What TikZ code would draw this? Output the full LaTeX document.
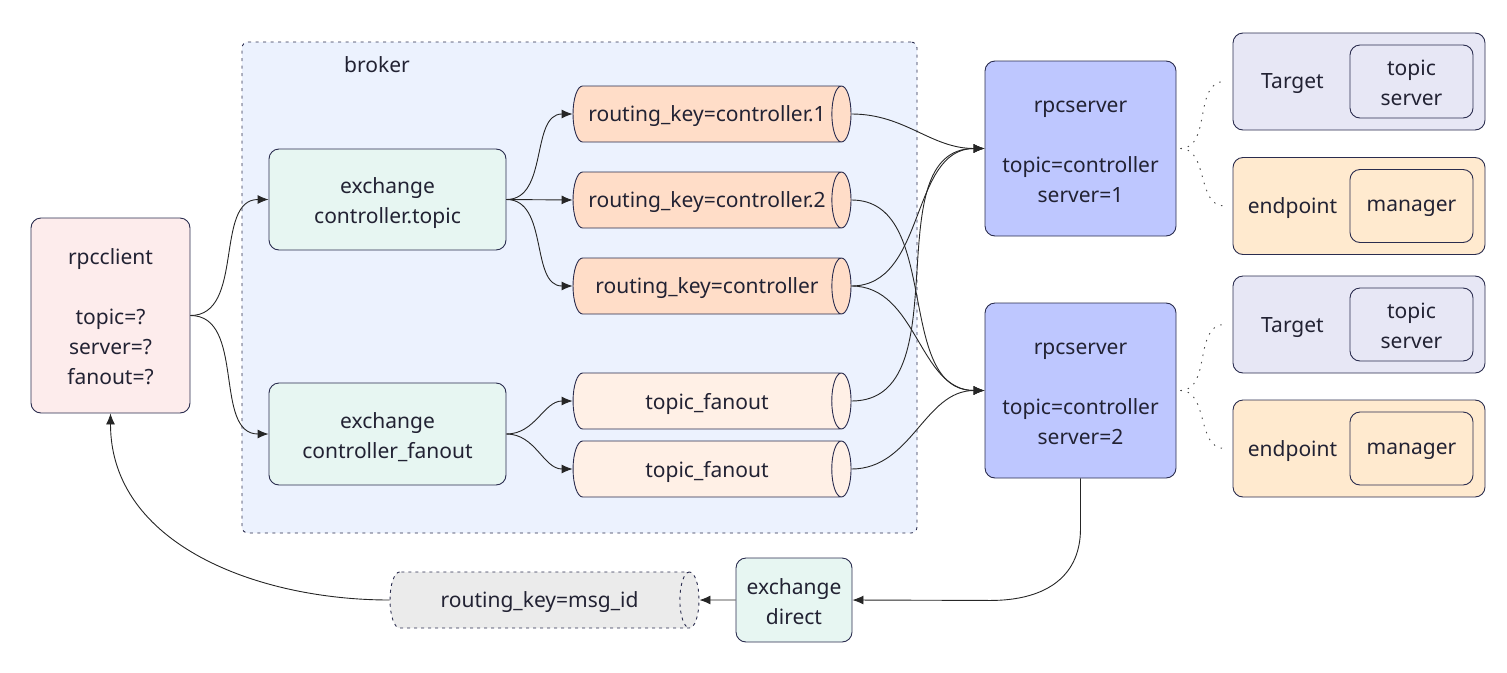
\documentclass[tikz,border=0pt]{standalone}
\usepackage{fontspec}
\setmainfont{Noto Sans}
\usetikzlibrary{shapes.geometric,arrows.meta}
\definecolor{txt}{HTML}{222233}
\definecolor{bord}{HTML}{2A2C4E}
\definecolor{brokerfill}{HTML}{ECF2FE}
\definecolor{clientfill}{HTML}{FDECEC}
\definecolor{exfill}{HTML}{E7F6F2}
\definecolor{peach}{HTML}{FFDDC8}
\definecolor{lightpeach}{HTML}{FFF0E6}
\definecolor{srvfill}{HTML}{BEC7FF}
\definecolor{tgtfill}{HTML}{E7E7F5}
\definecolor{epfill}{HTML}{FFEACF}
\definecolor{grayfill}{HTML}{EBEBEB}
\newcommand\mystrut{\rule{0pt}{18pt}}
\begin{document}
\begin{tikzpicture}[x=1pt,y=1pt,
  every node/.style={font=\fontsize{21}{30}\selectfont, text=txt, inner sep=0pt, align=center, text depth=-6pt},
  box/.style={draw=bord, line width=0.9pt, rounded corners=10pt},
  cyl/.style={cylinder, draw=bord, line width=0.9pt, aspect=1.2, cylinder uses custom fill,
    cylinder body fill=#1, cylinder end fill=#1, minimum height=278pt, minimum width=56pt},
  conn/.style={draw=black!85, line width=0.9pt, -{Latex[length=11pt,width=9pt]}},
  dotc/.style={draw=black!70, line width=0.9pt, dash pattern=on 1.5pt off 6pt}
]
\useasboundingbox (0,0) rectangle (1507,-672);
% broker cluster
\node[draw=bord, fill=brokerfill, line width=0.9pt, dash pattern=on 3pt off 4.5pt, rounded corners=6pt,
  minimum width=675pt, minimum height=491pt] (broker) at (579.5,-287.5) {};
\node (brokerlbl) at (377,-65) {broker};
% client
\node[box, fill=clientfill, minimum width=159pt, minimum height=195pt] (client) at (110.5,-315.5)
  {\mystrut rpcclient\\[30pt]topic=?\\server=?\\fanout=?};
% exchanges
\node[box, fill=exfill, minimum width=237pt, minimum height=101pt] (extopic) at (387.5,-199.5)
  {\mystrut exchange\\controller.topic};
\node[box, fill=exfill, minimum width=237pt, minimum height=102pt] (exfan) at (387.5,-434)
  {\mystrut exchange\\controller\_fanout};
% queues
\node[cyl=peach] (q1) at (707,-114) {routing\_key=controller.1};
\node[cyl=peach] (q2) at (707,-200) {routing\_key=controller.2};
\node[cyl=peach] (q3) at (707,-286) {routing\_key=controller};
\node[cyl=lightpeach] (f1) at (707,-401) {topic\_fanout};
\node[cyl=lightpeach] (f2) at (707,-469) {topic\_fanout};
% servers
\node[box, fill=srvfill, minimum width=191pt, minimum height=175pt] (srv1) at (1080.5,-148.5)
  {\mystrut rpcserver\\[30pt]topic=controller\\server=1};
\node[box, fill=srvfill, minimum width=191pt, minimum height=175pt] (srv2) at (1080.5,-390.5)
  {\mystrut rpcserver\\[30pt]topic=controller\\server=2};
% target / endpoint groups
\foreach \n/\y/\lbl/\inner/\fc in {t1/-81.5/Target/{\mystrut topic\\server}/tgtfill,
    e1/-206/endpoint/manager/epfill,
    t2/-324.5/Target/{\mystrut topic\\server}/tgtfill,
    e2/-448.5/endpoint/manager/epfill}{
  \node[box, fill=\fc, minimum width=252pt, minimum height=97pt] (\n) at (1359,\y) {};
  \node[box, fill=\fc, minimum width=123pt, minimum height=73pt] (\n in) at (1411.5,\y) {\inner};
  \node (\n lbl) at (1292.5,\y) {\lbl};
}
% direct exchange and reply queue
\node[box, fill=exfill, minimum width=116pt, minimum height=84pt] (exdirect) at (794,-600)
  {\mystrut exchange\\direct};
\node[cylinder, draw=bord, line width=0.9pt, dash pattern=on 3pt off 4pt, aspect=1.2,
  cylinder uses custom fill, cylinder body fill=grayfill, cylinder end fill=grayfill,
  minimum height=309pt, minimum width=56pt] (reply) at (539.5,-600) {routing\_key=msg\_id};
% connectors
\draw[conn] (client.east) to[out=0,in=180] (extopic.west);
\draw[conn] (client.east) to[out=0,in=180] (exfan.west);
\draw[conn] (extopic.east) to[out=0,in=180] (q1.west);
\draw[conn] (extopic.east) -- (q2.west);
\draw[conn] (extopic.east) to[out=0,in=180] (q3.west);
\draw[conn] (exfan.east) to[out=0,in=180] (f1.west);
\draw[conn] (exfan.east) to[out=0,in=180] (f2.west);
\draw[conn] (q1.east) to[out=0,in=180] (srv1.west);
\draw[conn] (q3.east) to[out=0,in=180] (srv1.west);
\draw[conn] (f1.east) to[out=0,in=180] (srv1.west);
\draw[conn] (q2.east) to[out=0,in=180] (srv2.west);
\draw[conn] (q3.east) to[out=0,in=180] (srv2.west);
\draw[conn] (f2.east) to[out=0,in=180] (srv2.west);
\draw[conn] (srv2.south) -- ++(0,-50) .. controls +(0,-52) and +(50,0) .. ++(-90,-72) -- (exdirect.east);
\draw[conn] (exdirect.west) -- (reply.east);
\draw[conn] (reply.west) to[out=180,in=-90] (client.south);
\draw[dotc] ([xshift=4pt]srv1.east) to[out=0,in=180] ([xshift=-8pt]t1.west);
\draw[dotc] ([xshift=4pt]srv1.east) to[out=0,in=180] ([xshift=-8pt]e1.west);
\draw[dotc] ([xshift=4pt]srv2.east) to[out=0,in=180] ([xshift=-8pt]t2.west);
\draw[dotc] ([xshift=4pt]srv2.east) to[out=0,in=180] ([xshift=-8pt]e2.west);
\end{tikzpicture}
\end{document}
